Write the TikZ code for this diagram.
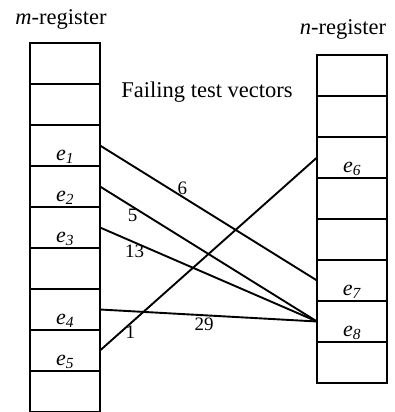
\documentclass[tikz,border=0pt]{standalone}
\usepackage{fontspec}
\setmainfont{Liberation Serif}
\usetikzlibrary{positioning}
\tikzset{
  cell/.style={
    draw, line width=2.1pt, minimum width=70pt, minimum height=41pt,
    inner sep=0pt, outer sep=0pt
  },
  elab/.style={anchor=base, inner sep=0pt, font=\fontsize{22}{26}\selectfont},
  title/.style={anchor=base, inner sep=0pt, font=\fontsize{22.5}{27}\selectfont},
  wire/.style={line width=1.9pt},
  num/.style={inner sep=1.5pt, font=\fontsize{19}{23}\selectfont}
}
\newcommand{\ev}[1]{\textit{e}\textsubscript{\textit{#1}}}

\begin{document}
\begin{tikzpicture}[x=1pt,y=-1pt]
        \useasboundingbox (0,0) rectangle (395,412);
        % registers
        \node[cell] (m1) at (65,63.5) {};
        \foreach \i [count=\j] in {2,...,9}
          \node[cell,below=0pt of m\j] (m\i) {};
        \node[cell] (n1) at (352,75.5) {};
        \foreach \i [count=\j] in {2,...,8}
          \node[cell,below=0pt of n\j] (n\i) {};
        % titles
        \node[title] (mtitle) at (61,25) {\textit{m}-register};
        \node[title] (ntitle) at (343,35) {\textit{n}-register};
        \node[title] (ftitle) at (207,97) {Failing test vectors};
        % cell labels
        \node[elab] (e1) at ([yshift=6pt]m3.south) {\ev{1}};
        \node[elab] (e2) at ([yshift=6pt]m4.south) {\ev{2}};
        \node[elab] (e3) at ([yshift=6pt]m5.south) {\ev{3}};
        \node[elab] (e4) at ([yshift=6pt]m7.south) {\ev{4}};
        \node[elab] (e5) at ([yshift=6pt]m8.south) {\ev{5}};
        \node[elab] (e6) at ([yshift=6pt]n3.south) {\ev{6}};
        \node[elab] (e7) at ([yshift=6pt]n6.south) {\ev{7}};
        \node[elab] (e8) at ([yshift=6pt]n7.south) {\ev{8}};
        % failing vectors
        \draw[wire] (m3.east) -- node[num,pos=.38,above] (w6) {6} (n6.west);
        \draw[wire] (m4.east) -- node[num,pos=.15,below] (w5) {5} (n7.west);
        \draw[wire] (m5.east) -- node[num,pos=.16,below] (w13) {13} (n7.west);
        \draw[wire] (m7.east) -- node[num,pos=.48,below] (w29) {29} (n7.west);
        \draw[wire] (m8.east) -- node[num,pos=.14,below] (w1) {1} (n3.west);
\end{tikzpicture}
\end{document}
